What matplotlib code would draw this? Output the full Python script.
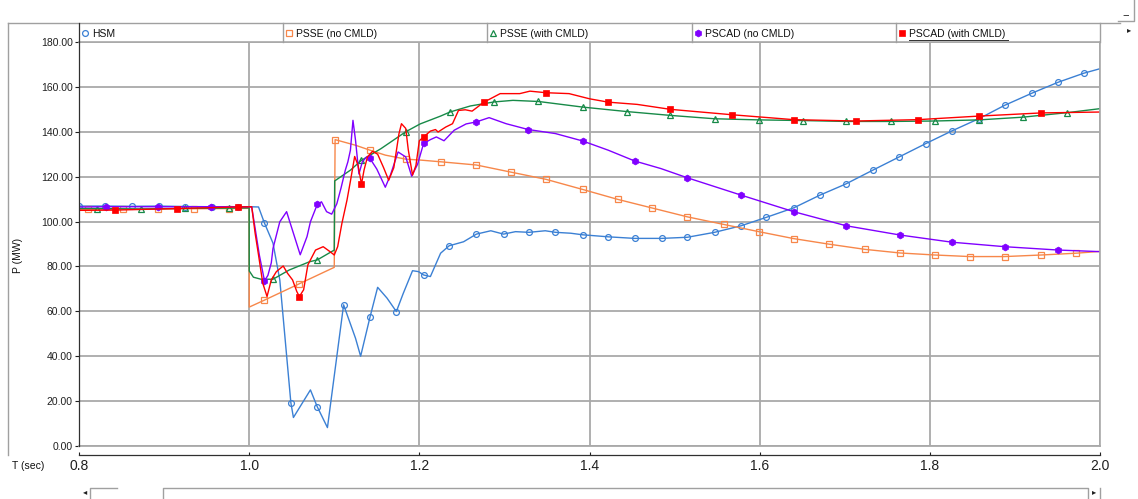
import numpy as np
import matplotlib
matplotlib.use("Agg")
import matplotlib.pyplot as plt
from matplotlib.lines import Line2D

plt.rcParams['font.family'] = ['Liberation Sans', 'DejaVu Sans']

# ---------------- data ----------------
LABELS = ["HSM", "PSSE (no CMLD)", "PSSE (with CMLD)", "PSCAD (no CMLD)", "PSCAD (with CMLD)"]

T_HSM = [0.800, 0.831, 0.862, 0.894, 0.925, 0.956, 0.987, 1.000, 1.011, 1.018, 1.028, 1.036, 1.049, 1.052,
         1.072, 1.080, 1.092, 1.111, 1.125, 1.131, 1.142, 1.151, 1.162, 1.173, 1.181, 1.192, 1.199, 1.205,
         1.213, 1.225, 1.235, 1.252, 1.267, 1.284, 1.299, 1.313, 1.329, 1.348, 1.360, 1.378, 1.392, 1.422,
         1.453, 1.485, 1.515, 1.547, 1.578, 1.608, 1.640, 1.671, 1.701, 1.733, 1.764, 1.795, 1.826, 1.858,
         1.888, 1.920, 1.951, 1.981, 2.000]
P_HSM = [106.9, 106.9, 106.8, 106.9, 106.7, 106.6, 106.6, 106.6, 106.5, 99.3, 90.4, 74.0, 19.3, 12.7,
         25.0, 17.5, 8.2, 62.9, 48.0, 40.0, 57.4, 70.7, 65.9, 59.9, 67.9, 78.1, 77.7, 76.2,
         75.5, 85.9, 89.2, 91.0, 94.4, 95.9, 94.4, 95.5, 95.2, 95.9, 95.2, 94.8, 94.1, 93.2,
         92.5, 92.5, 93.0, 95.2, 98.1, 101.9, 106.1, 111.8, 116.7, 122.9, 128.8, 134.7, 140.4, 145.9,
         151.8, 157.2, 162.1, 166.1, 168.1]
M_HSM = [0.800, 0.831, 0.862, 0.894, 0.925, 0.956, 0.987, 1.018, 1.049, 1.080, 1.111, 1.142, 1.173,
         1.205, 1.235, 1.267, 1.299, 1.329, 1.360, 1.392, 1.422, 1.453, 1.485, 1.515, 1.547, 1.578,
         1.608, 1.640, 1.671, 1.701, 1.733, 1.764, 1.795, 1.826, 1.858, 1.888, 1.920, 1.951, 1.981]

T_PSSE_NO = [0.800, 0.811, 0.852, 0.893, 0.935, 0.976, 1.000, 1.0001, 1.018, 1.059, 1.100, 1.101, 1.125,
             1.142, 1.160, 1.184, 1.201, 1.226, 1.267, 1.308, 1.349, 1.392, 1.433, 1.474, 1.515, 1.558,
             1.599, 1.640, 1.682, 1.724, 1.765, 1.806, 1.847, 1.888, 1.931, 1.972, 2.000]
P_PSSE_NO = [105.3, 105.4, 105.5, 105.6, 105.7, 105.8, 105.9, 61.9, 65.0, 72.3, 79.6, 136.5, 134.0,
             131.8, 129.6, 127.8, 127.4, 126.6, 125.2, 122.0, 118.8, 114.3, 109.9, 106.0, 102.1, 98.7,
             95.5, 92.4, 89.9, 87.6, 86.0, 85.1, 84.4, 84.4, 85.1, 85.9, 86.7]
M_PSSE_NO = [0.811, 0.852, 0.893, 0.935, 0.976, 1.018, 1.059, 1.101, 1.142, 1.184, 1.226, 1.267, 1.308,
             1.349, 1.392, 1.433, 1.474, 1.515, 1.558, 1.599, 1.640, 1.682, 1.724, 1.765, 1.806, 1.847,
             1.888, 1.931, 1.972]

T_PSSE_CM = [0.800, 0.821, 0.873, 0.925, 0.976, 1.000, 1.0001, 1.005, 1.014, 1.028, 1.047, 1.071, 1.080,
             1.100, 1.1005, 1.119, 1.132, 1.155, 1.184, 1.201, 1.225, 1.236, 1.260, 1.288, 1.310, 1.340,
             1.392, 1.444, 1.495, 1.547, 1.599, 1.651, 1.702, 1.754, 1.806, 1.858, 1.909, 1.961, 2.000]
P_PSSE_CM = [105.8, 105.8, 105.6, 105.9, 106.0, 106.1, 78.0, 75.2, 74.3, 74.3, 78.4, 82.1, 82.9,
             87.3, 118.1, 122.9, 127.3, 132.5, 140.0, 143.5, 147.0, 148.8, 151.5, 153.3, 154.0, 153.5,
             151.0, 149.0, 147.3, 145.8, 145.3, 145.0, 144.6, 144.6, 144.8, 145.3, 146.5, 148.5, 150.3]
M_PSSE_CM = [0.821, 0.873, 0.925, 0.976, 1.028, 1.080, 1.132, 1.184, 1.236, 1.288, 1.340, 1.392, 1.444,
             1.495, 1.547, 1.599, 1.651, 1.702, 1.754, 1.806, 1.858, 1.909, 1.961]

T_PSCAD_NO = [0.800, 0.832, 0.893, 0.955, 1.000, 1.003, 1.007, 1.012, 1.018, 1.022, 1.026, 1.028, 1.036,
              1.044, 1.052, 1.060, 1.068, 1.072, 1.080, 1.085, 1.091, 1.097, 1.103, 1.108, 1.113, 1.116,
              1.119, 1.122, 1.125, 1.129, 1.133, 1.138, 1.142, 1.150, 1.160, 1.166, 1.175, 1.184, 1.191,
              1.198, 1.205, 1.213, 1.220, 1.229, 1.241, 1.255, 1.267, 1.282, 1.302, 1.316, 1.328, 1.360,
              1.392, 1.422, 1.453, 1.484, 1.515, 1.578, 1.640, 1.702, 1.765, 1.826, 1.888, 1.951, 2.000]
P_PSCAD_NO = [106.5, 106.6, 106.6, 106.6, 106.6, 106.5, 97.0, 85.0, 73.6, 76.0, 81.6, 88.0, 99.9,
              104.4, 94.8, 85.2, 93.3, 99.9, 107.6, 108.8, 104.4, 103.3, 107.9, 115.0, 122.9, 126.6,
              131.8, 145.1, 136.2, 121.2, 126.6, 128.8, 128.1, 123.4, 115.3, 120.7, 131.0, 128.8, 120.2,
              125.6, 134.8, 136.5, 137.7, 136.0, 140.7, 143.5, 144.4, 146.3, 143.6, 142.2, 141.0, 139.2,
              135.9, 131.8, 127.0, 123.6, 119.5, 111.8, 104.4, 98.1, 94.0, 90.8, 88.8, 87.3, 86.6]
M_PSCAD_NO = [0.832, 0.893, 0.955, 1.018, 1.080, 1.142, 1.205, 1.267, 1.328, 1.392, 1.453, 1.515, 1.578,
              1.640, 1.702, 1.765, 1.826, 1.888, 1.951]

T_PSCAD_CM = [0.800, 0.842, 0.915, 0.987, 1.003, 1.007, 1.011, 1.016, 1.021, 1.026, 1.032, 1.040, 1.045,
              1.051, 1.056, 1.059, 1.064, 1.069, 1.078, 1.087, 1.095, 1.100, 1.104, 1.109, 1.115, 1.119,
              1.124, 1.128, 1.132, 1.135, 1.139, 1.145, 1.151, 1.158, 1.164, 1.170, 1.176, 1.179, 1.184,
              1.187, 1.192, 1.196, 1.200, 1.205, 1.213, 1.219, 1.222, 1.231, 1.239, 1.246, 1.254, 1.262,
              1.276, 1.295, 1.318, 1.330, 1.349, 1.376, 1.400, 1.422, 1.456, 1.495, 1.567, 1.640, 1.713,
              1.786, 1.858, 1.931, 2.000]
P_PSCAD_CM = [105.0, 105.1, 105.8, 106.5, 106.6, 94.8, 85.1, 72.5, 66.6, 74.0, 77.7, 80.2, 77.0,
              74.0, 68.8, 66.6, 69.6, 80.7, 87.3, 88.8, 86.6, 85.1, 88.8, 99.2, 109.6, 118.0,
              129.0, 125.0, 116.7, 122.9, 128.8, 131.3, 130.0, 124.0, 118.4, 124.0, 139.0, 143.6, 141.5,
              132.0, 120.7, 125.0, 136.0, 137.7, 140.3, 141.0, 139.9, 142.1, 143.6, 149.5, 149.8, 149.2,
              153.2, 157.0, 157.0, 158.1, 157.4, 157.0, 154.7, 153.2, 152.2, 150.0, 147.6, 145.4, 144.8,
              145.4, 147.0, 148.4, 148.8]
M_PSCAD_CM = [0.842, 0.915, 0.987, 1.059, 1.132, 1.205, 1.276, 1.349, 1.422, 1.495, 1.567, 1.640, 1.713,
              1.786, 1.858, 1.931]

X_TICKS = [0.8, 1.0, 1.2, 1.4, 1.6, 1.8, 2.0]
X_TICK_LABELS = ["0.8", "1.0", "1.2", "1.4", "1.6", "1.8", "2.0"]
Y_TICKS = [0, 20, 40, 60, 80, 100, 120, 140, 160, 180]
Y_TICK_LABELS = ["%.2f" % v for v in Y_TICKS]

# ---------------- styles ----------------
STYLES = [
    dict(color='#3b80d4', marker='o', mfc='none', ms=4.2, mew=0.9),
    dict(color='#f7874a', marker='s', mfc='none', ms=4.0, mew=0.9),
    dict(color='#178a48', marker='^', mfc='none', ms=4.6, mew=0.9),
    dict(color='#8000ff', marker='h', mfc='#8000ff', ms=5.0, mew=0.5),
    dict(color='#ff0000', marker='s', mfc='#ff0000', ms=4.6, mew=0.5),
]
SERIES = [(T_HSM, P_HSM, M_HSM), (T_PSSE_NO, P_PSSE_NO, M_PSSE_NO), (T_PSSE_CM, P_PSSE_CM, M_PSSE_CM),
          (T_PSCAD_NO, P_PSCAD_NO, M_PSCAD_NO), (T_PSCAD_CM, P_PSCAD_CM, M_PSCAD_CM)]

W, H = 1138, 499
fig = plt.figure(figsize=(W / 100, H / 100), dpi=100)
L, R, B, TP = 79, 1100, 446, 42
ax = fig.add_axes([L / W, 1 - B / H, (R - L) / W, (B - TP) / H])

FS = 7.5
GRID = '#a9a9a9'
ax.set_xlim(0.8, 2.0)
ax.set_ylim(0, 180)
ax.set_xticks(X_TICKS)
ax.set_xticklabels(X_TICK_LABELS, fontsize=FS)
ax.set_yticks(Y_TICKS)
ax.set_yticklabels(Y_TICK_LABELS, fontsize=FS)
ax.grid(True, color=GRID, lw=1.3, zorder=0)
ax.set_axisbelow(True)
ax.axhline(0, color=GRID, lw=1.3, clip_on=False, zorder=1)

for (t, p, m), st in zip(SERIES, STYLES):
    ta = np.array(t)
    idx = [int(np.argmin(np.abs(ta - mm))) for mm in m]
    ax.plot(t, p, lw=1.0, markevery=idx, **st)

for s in ['top', 'right']:
    ax.spines[s].set_color(GRID)
    ax.spines[s].set_linewidth(1.2)
ax.spines['left'].set_color('#303030')
ax.spines['left'].set_linewidth(0.9)
ax.spines['bottom'].set_position(('outward', 6.5))
ax.spines['bottom'].set_color('#303030')
ax.spines['bottom'].set_linewidth(0.9)
ax.tick_params(axis='y', direction='out', length=3, width=0.8, pad=1.5, colors='#202020')
ax.tick_params(axis='x', direction='in', length=2.5, width=0.8, pad=3, colors='#202020')

# ---------------- decorations (pixel coordinates overlay) ----------------
ov = fig.add_axes([0, 0, 1, 1], zorder=5)
ov.set_xlim(0, W)
ov.set_ylim(H, 0)
ov.axis('off')
ov.patch.set_alpha(0)

FRAME = '#a0a0a0'
ov.plot([8, 8], [23, 455], color=FRAME, lw=1.0)
ov.plot([8, 1120], [23, 23], color=FRAME, lw=1.0)
ov.plot([L, L], [23, TP], color='#303030', lw=0.9)
cell_w = (R - L) / 5
for k in range(1, 6):
    x = L + k * cell_w
    ov.plot([x, x], [23, TP], color=FRAME, lw=1.0)
for k, (lab, st) in enumerate(zip(LABELS, STYLES)):
    x0 = L + k * cell_w
    ov.add_line(Line2D([x0 + 6], [33], linestyle='none', **st))
    ov.text(x0 + 13, 33.5, lab, fontsize=FS, ha='left', va='center', color='#101010')
ov.plot([x0 + 13, x0 + 112], [39.5, 39.5], color='#303030', lw=0.7)

ov.text(12, 466, "T (sec)", fontsize=FS, ha='left', va='center', color='#101010')
ov.text(18, 255, "P (MW)", fontsize=FS, rotation=90, ha='center', va='center', color='#101010')

# scrollbar
ov.text(85, 493, "\u25c2", fontsize=6, ha='center', va='center', color='#202020')
ov.plot([90, 90, 117], [499, 488, 488], color=FRAME, lw=1.0)
ov.plot([163, 163, 1088, 1088], [499, 488, 488, 499], color=FRAME, lw=1.0)
ov.text(1094, 493, "\u25b8", fontsize=6, ha='center', va='center', color='#202020')
ov.plot([1100, 1100], [488, 499], color=FRAME, lw=1.0)

# top-right widgets
ov.text(1126, 15, "\u2212", fontsize=8, ha='center', va='center', color='#202020')
ov.plot([1118, 1134, 1134], [21, 21, 0], color=FRAME, lw=1.0)
ov.text(1129, 31, "\u25b8", fontsize=6, ha='center', va='center', color='#202020')

fig.savefig("out.png", dpi=100)
